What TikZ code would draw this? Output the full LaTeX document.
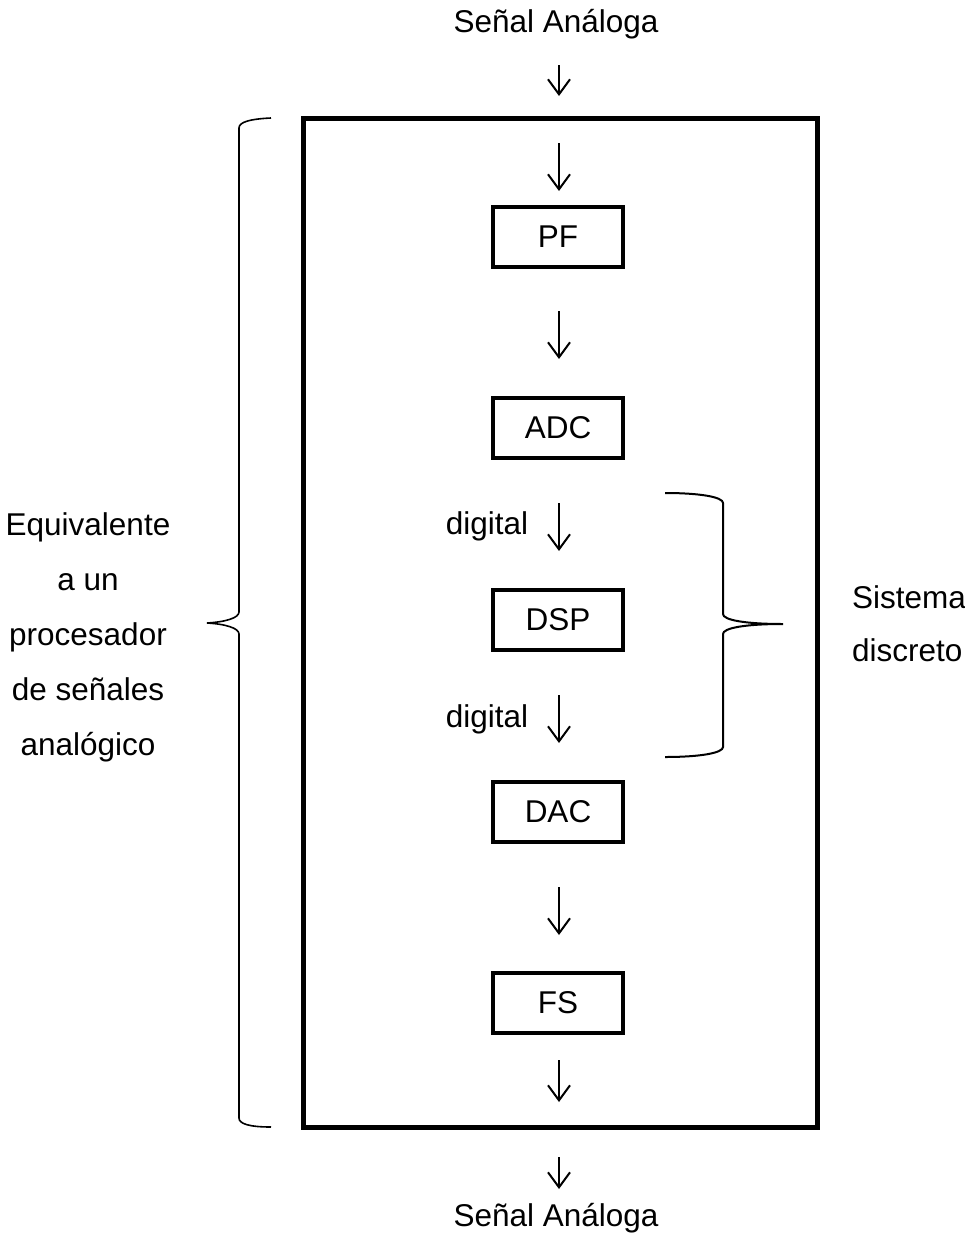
\documentclass[tikz,border=0pt]{standalone}
\usepackage{fontspec}
\setmainfont{Liberation Sans}
\usetikzlibrary{arrows.meta}
\begin{document}
\begin{tikzpicture}[x=1pt,y=-1pt,
  txt/.style={font=\fontsize{31.5}{36}\selectfont, inner sep=0pt, anchor=base},
  blk/.style={draw, line width=4pt, minimum width=130pt, minimum height=60pt, inner sep=0pt, font=\fontsize{31.5}{36}\selectfont},
  flow/.style={line width=2pt, -{Straight Barb[length=15pt,width=22pt,line width=2pt]}},
  brace/.style={line width=2pt}]
\useasboundingbox (0,0) rectangle (965,1234);

% texts top and bottom
\node[txt] (tin) at (556,32) {Señal Análoga};
\node[txt] (tout) at (556,1226.5) {Señal Análoga};

% outer box
\node[draw, line width=5pt, minimum width=514pt, minimum height=1009pt, inner sep=0pt] (outer) at (560,622.5) {};

% blocks
\node[blk] (pf)  at (558,237) {PF};
\node[blk] (adc) at (558,428) {ADC};
\node[blk] (dsp) at (558,620) {DSP};
\node[blk] (dac) at (558,812) {DAC};
\node[blk] (fs)  at (558,1003) {FS};

% arrows
\coordinate (a1s) at (559,65);   \coordinate (a1e) at (559,96);
\coordinate (a2s) at (559,143);  \coordinate (a2e) at (559,191);
\coordinate (a3s) at (559,311);  \coordinate (a3e) at (559,359);
\coordinate (a4s) at (559,503);  \coordinate (a4e) at (559,551);
\coordinate (a5s) at (559,695);  \coordinate (a5e) at (559,743);
\coordinate (a6s) at (559,887);  \coordinate (a6e) at (559,935);
\coordinate (a7s) at (559,1060); \coordinate (a7e) at (559,1102);
\coordinate (a8s) at (559,1157); \coordinate (a8e) at (559,1189);
\foreach \i in {1,...,8} \draw[flow] (a\i s) -- (a\i e);

\node[txt] (d1) at (487,534) {digital};
\node[txt] (d2) at (487,727) {digital};

% left brace
\draw[brace, line width=1.6pt] (271,118) .. controls (250,119) and (239,122) .. (239,128)
  -- (239,612) .. controls (239,618) and (225,622) .. (207,623)
  .. controls (225,624) and (239,628) .. (239,634)
  -- (239,1118) .. controls (239,1124) and (250,1127) .. (271,1127);

% right brace
\draw[brace] (665,493) .. controls (700,493) and (723,497) .. (723,503)
  -- (723,614) .. controls (723,620) and (745,624) .. (783,624)
  .. controls (745,624) and (723,628) .. (723,634)
  -- (723,747) .. controls (723,753) and (700,757) .. (665,757);

% side texts
\node[txt] (l1) at (88,535) {Equivalente};
\node[txt] (l2) at (88,590) {a un};
\node[txt] (l3) at (88,645) {procesador};
\node[txt] (l4) at (88,700) {de señales};
\node[txt] (l5) at (88,755) {analógico};
\node[txt, anchor=base west] (r1) at (852,608) {Sistema};
\node[txt, anchor=base west] (r2) at (852,661) {discreto};
\end{tikzpicture}
\end{document}
